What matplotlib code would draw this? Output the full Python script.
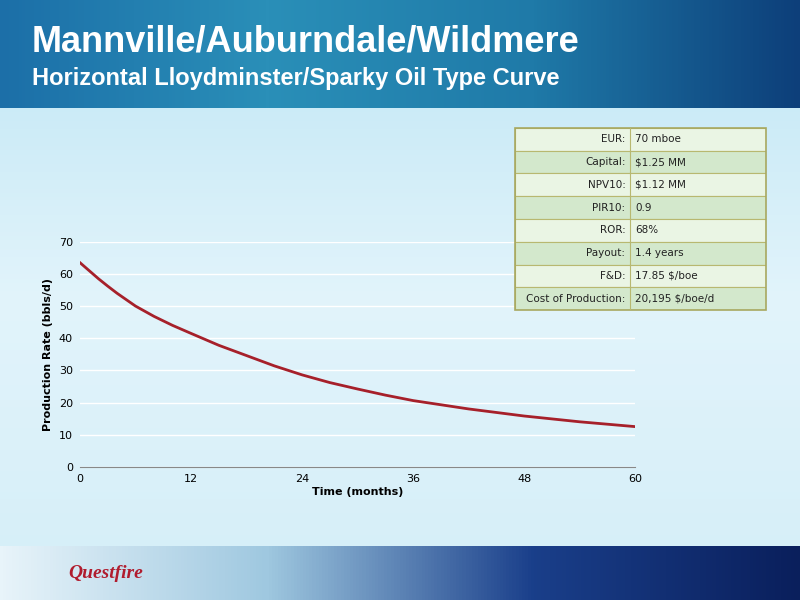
import matplotlib.pyplot as plt
import numpy as np

# Type curve values
months = [0, 1, 2, 3, 4, 5, 6, 8, 10, 12, 15, 18, 21, 24, 27, 30, 33, 36, 42, 48, 54, 60]
rate = [63.5, 61.0, 58.5, 56.2, 54.0, 52.0, 50.0, 46.8, 44.0, 41.5, 37.8, 34.6, 31.4, 28.6, 26.2, 24.2, 22.3, 20.6, 18.0, 15.8, 14.0, 12.5]
x_ticks = [0, 12, 24, 36, 48, 60]
y_ticks = [0, 10, 20, 30, 40, 50, 60, 70]

table_labels = ['EUR:', 'Capital:', 'NPV10:', 'PIR10:', 'ROR:', 'Payout:', 'F&D:', 'Cost of Production:']
table_values = ['70 mboe', '$1.25 MM', '$1.12 MM', '0.9', '68%', '1.4 years', '17.85 $/boe', '20,195 $/boe/d']

fig = plt.figure(figsize=(8, 6), dpi=100)

# background
bg = fig.add_axes([0, 0, 1, 1])
grad = np.linspace(0, 1, 256).reshape(-1, 1)
bg.imshow(grad, cmap=plt.matplotlib.colors.LinearSegmentedColormap.from_list(
    'bg', ['#bfe6f5', '#e2f4fb', '#d4eef8']), aspect='auto', extent=[0, 1, 0, 1])
# header banner
hgrad = np.linspace(0, 1, 256).reshape(1, -1)
bg.imshow(hgrad, cmap=plt.matplotlib.colors.LinearSegmentedColormap.from_list(
    'hd', ['#1c6fa8', '#2a8fb8', '#1f7aa8', '#0d3f7a']), aspect='auto', extent=[0, 1, 0.82, 1])
# footer
bg.imshow(hgrad, cmap=plt.matplotlib.colors.LinearSegmentedColormap.from_list(
    'ft', ['#e8f4fa', '#9fc8e0', '#1a3f8a', '#0a1f5c']), aspect='auto', extent=[0, 1, 0, 0.09])
bg.set_xlim(0, 1)
bg.set_ylim(0, 1)
bg.axis('off')

fig.text(0.04, 0.93, 'Mannville/Auburndale/Wildmere', color='white', fontsize=26,
         fontweight='bold', va='center', family='Liberation Sans')
fig.text(0.04, 0.87, 'Horizontal Lloydminster/Sparky Oil Type Curve', color='white', fontsize=17,
         fontweight='bold', va='center', family='Liberation Sans')
fig.text(0.085, 0.045, 'Questfire', color='#b01c2e', fontsize=14, fontstyle='italic',
         fontweight='bold', va='center', family='Liberation Serif')

ax = fig.add_axes([0.1, 0.222, 0.694, 0.375])
ax.set_facecolor('none')
ax.plot(months, rate, color='#a6202a', linewidth=2)
ax.set_xlim(0, 60)
ax.set_ylim(0, 70)
ax.set_xticks(x_ticks)
ax.set_yticks(y_ticks)
ax.grid(axis='y', color='white', linewidth=1)
for s in ['top', 'right', 'left']:
    ax.spines[s].set_visible(False)
ax.spines['bottom'].set_color('#888888')
ax.tick_params(length=0, labelsize=8, pad=5)
ax.set_xlabel('Time (months)', fontsize=8, fontweight='bold', labelpad=2)
ax.set_ylabel('Production Rate (bbls/d)', fontsize=8, fontweight='bold')

# summary table
tab = fig.add_axes([0.644, 0.483, 0.313, 0.304])
tab.set_xlim(0, 1)
tab.set_ylim(0, len(table_labels))
tab.axis('off')
split = 0.46
for i, (lab, val) in enumerate(zip(table_labels, table_values)):
    y = len(table_labels) - i - 1
    c = '#eaf5e4' if i % 2 == 0 else '#d3e8cc'
    tab.add_patch(plt.Rectangle((0, y), 1, 1, facecolor=c, edgecolor='#b8b870', linewidth=0.8))
    tab.plot([split, split], [y, y + 1], color='#b8b870', linewidth=0.8)
    tab.text(split - 0.02, y + 0.5, lab, ha='right', va='center', fontsize=7.5, color='#222222')
    tab.text(split + 0.02, y + 0.5, val, ha='left', va='center', fontsize=7.5, color='#222222')
tab.add_patch(plt.Rectangle((0, 0), 1, len(table_labels), facecolor='none',
                            edgecolor='#a8a860', linewidth=1.2, clip_on=False))

fig.savefig('out.png', dpi=100)
